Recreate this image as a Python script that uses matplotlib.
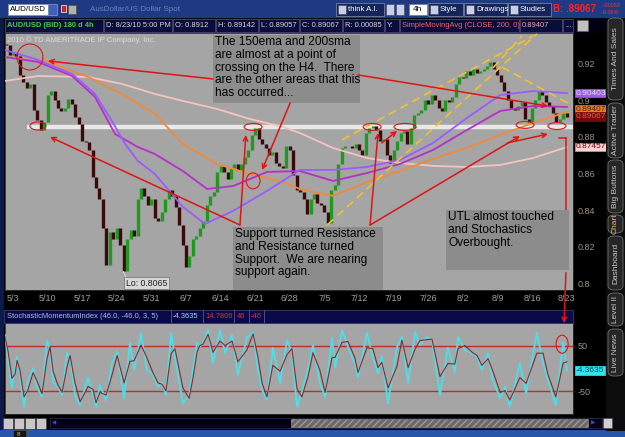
import numpy as np
import matplotlib.pyplot as plt
from matplotlib.patches import Rectangle, Ellipse, FancyBboxPatch, FancyArrowPatch

plt.rcParams['font.family'] = ['Liberation Sans', 'DejaVu Sans']

# x axis: weeks since Mon 5/3/2010
week_labels = ['5/3', '5/10', '5/17', '5/24', '5/31', '6/7', '6/14', '6/21', '6/28',
               '7/5', '7/12', '7/19', '7/26', '8/2', '8/9', '8/16', '8/23']

# AUD/USD closes, two bars per trading day, first bar at week -0.2
first_open = 0.931
closes = [0.930, 0.925, 0.926, 0.924, 0.914, 0.910, 0.907, 0.909, 0.895, 0.889,
          0.884, 0.888, 0.903, 0.905, 0.900, 0.896, 0.894, 0.896, 0.901, 0.898,
          0.891, 0.887, 0.878, 0.877, 0.873, 0.858, 0.852, 0.846, 0.830, 0.810,
          0.828, 0.824, 0.830, 0.821, 0.807, 0.824, 0.829, 0.826, 0.846, 0.852,
          0.848, 0.843, 0.846, 0.836, 0.834, 0.839, 0.846, 0.851, 0.848, 0.842,
          0.832, 0.821, 0.809, 0.815, 0.824, 0.826, 0.830, 0.834, 0.843, 0.848,
          0.850, 0.861, 0.864, 0.861, 0.857, 0.863, 0.865, 0.862, 0.865, 0.869,
          0.873, 0.881, 0.885, 0.879, 0.876, 0.874, 0.870, 0.872, 0.866, 0.864,
          0.863, 0.875, 0.873, 0.859, 0.851, 0.850, 0.846, 0.838, 0.846, 0.849,
          0.844, 0.843, 0.839, 0.833, 0.851, 0.854, 0.865, 0.874, 0.875, 0.875,
          0.874, 0.876, 0.873, 0.870, 0.882, 0.885, 0.886, 0.884, 0.878, 0.879,
          0.870, 0.866, 0.873, 0.878, 0.882, 0.883, 0.876, 0.885, 0.892, 0.893,
          0.895, 0.900, 0.898, 0.903, 0.900, 0.896, 0.894, 0.900, 0.899, 0.902,
          0.909, 0.913, 0.912, 0.916, 0.914, 0.917, 0.915, 0.916, 0.917, 0.919,
          0.921, 0.917, 0.914, 0.910, 0.905, 0.900, 0.896, 0.895, 0.897, 0.899,
          0.890, 0.888, 0.896, 0.900, 0.905, 0.903, 0.899, 0.897, 0.893, 0.888,
          0.890, 0.893, 0.8907]

# moving averages (week, price)
violet_w = [-0.23, 0.64, 1.71, 2.37, 2.86, 3.24, 3.61, 4.10, 4.91, 5.55, 6.36, 7.34,
            8.29, 9.25, 10.23, 11.18, 12.14, 13.12, 14.08, 15.03, 16.01]
violet = [0.9275, 0.9226, 0.9144, 0.9035, 0.8887, 0.8762, 0.8669, 0.8598, 0.8418, 0.8325,
          0.8396, 0.8505, 0.8620, 0.8620, 0.8636, 0.8674, 0.8767, 0.8904, 0.9029, 0.9051, 0.9040]
magenta_w = [-0.23, 0.72, 1.71, 2.37, 2.95, 3.61, 4.10, 4.91, 5.61, 6.36, 7.34, 8.29,
             9.25, 10.23, 11.18, 12.14, 13.12, 14.08, 15.03, 16.01]
magenta = [0.9237, 0.9210, 0.9133, 0.9019, 0.8816, 0.8745, 0.8707, 0.8614, 0.8516, 0.8532,
           0.8609, 0.8614, 0.8560, 0.8603, 0.8652, 0.8729, 0.8838, 0.8942, 0.8969, 0.8964]
orange_w = [-0.23, 1.01, 2.17, 3.15, 4.10, 4.91, 5.90, 6.85, 7.80, 8.29, 9.25, 10.23,
            11.18, 12.14, 13.12, 14.08, 15.03, 16.01]
orange = [0.9237, 0.9210, 0.9128, 0.9035, 0.8926, 0.8762, 0.8652, 0.8598, 0.8554, 0.8516,
          0.8478, 0.8554, 0.8614, 0.8680, 0.8740, 0.8811, 0.8876, 0.8937]
pink_w = [-0.23, 0.72, 2.17, 3.15, 4.10, 4.91, 5.90, 6.85, 7.80, 8.29, 9.25, 10.23,
          11.18, 12.14, 13.12, 14.08, 15.03, 16.01]
pink = [0.9106, 0.9133, 0.9128, 0.9090, 0.9035, 0.8997, 0.8953, 0.8898, 0.8855, 0.8822,
        0.8740, 0.8685, 0.8658, 0.8642, 0.8636, 0.8647, 0.8685, 0.8745]

# stochastic momentum index
smi_w = [-0.23, -0.14, -0.03, 0.06, 0.12, 0.20, 0.32, 0.43, 0.58, 0.69, 0.84, 0.98, 1.07, 1.16,
         1.30, 1.42, 1.56, 1.65, 1.79, 1.94, 2.17, 2.31, 2.40, 2.51, 2.69, 2.86, 3.01, 3.21,
         3.38, 3.50, 3.70, 3.87, 4.05, 4.19, 4.31, 4.42, 4.57, 4.68, 4.91, 5.09, 5.20, 5.32,
         5.40, 5.49, 5.64, 5.78, 5.98, 6.13, 6.33, 6.50, 6.76, 6.94, 7.08, 7.20, 7.34, 7.51,
         7.72, 7.92, 8.06, 8.21, 8.35, 8.53, 8.67, 8.87, 9.02, 9.22, 9.31, 9.51, 9.68, 9.88,
         9.97, 10.23, 10.40, 10.55, 10.66, 10.84, 11.10, 11.24, 11.42, 11.62, 11.76, 11.97,
         12.11, 12.34, 12.57, 12.77, 12.86, 13.06, 13.27, 13.41, 13.55, 13.73, 13.87, 14.08,
         14.22, 14.36, 14.65, 14.83, 15.14, 15.32, 15.46, 15.69, 15.90, 16.01]
smi = [74, 19, -43, 3, 26, -19, -85, -30, 1, -41, -63, 63, 41, -30, -41, -59, 34, 26, -59, -81,
       -19, -59, -85, -37, -70, 12, 37, -66, 57, -3, 79, -3, -14, -41, -32, -59, 79, 26, -77, -60,
       -3, 57, 48, 57, 85, 12, 85, 34, 74, -14, 68, 81, -3, -48, -70, 46, -32, 63, 34, -85,
       -52, 0, 52, -32, -63, 68, 3, 85, 48, 12, -19, 79, 26, -10, 26, -77, 48, 70, -32, 81,
       52, 70, 63, -59, 46, -8, 70, 41, 34, 26, -3, 34, -26, -66, -41, -85, 12, -55, 79, 12,
       -26, -81, 59, -4]
smi_sig = [70, 37, -22, -12, 18, -4, -63, -48, -9, -27, -56, 21, 48, -6, -37, -53, 3, 29, -31, -74,
           -40, -46, -76, -53, -59, -15, 29, -32, 16, 17, 52, 24, -10, -32, -35, -50, 33, 44, -43, -66,
           -22, 37, 51, 54, 76, 36, 61, 51, 61, 15, 41, 77, 25, -33, -63, 7, -6, 31, 44, -45,
           -63, -17, 35, -4, -53, 24, 25, 58, 60, 24, -9, 46, 44, 2, 14, -43, 6, 63, 2, 43,
           62, 64, 65, -18, 11, 10, 44, 51, 36, 29, 7, 22, -6, -53, -49, -70, -20, -33, 34, 34,
           -13, -63, 12, 15]

price_ticks = [0.8, 0.82, 0.84, 0.86, 0.88, 0.9, 0.92]
price_tick_labels = ['0.8', '0.82', '0.84', '0.86', '0.88', '0.9', '0.92']

W, H = 625, 437
RED = '#e01414'
fig = plt.figure(figsize=(W / 100, H / 100), dpi=100, facecolor='black')


def fx(x):
    return x / W


def fy(y):
    return 1 - y / H


def box(x0, y0, x1, y1, **kw):
    r = Rectangle((fx(x0), fy(y1)), (x1 - x0) / W, (y1 - y0) / H,
                  transform=fig.transFigure, **kw)
    fig.add_artist(r)
    return r


def label(x, y, s, **kw):
    kw.setdefault('va', 'center')
    return fig.text(fx(x), fy(y), s, **kw)


# ---------- window chrome ----------
box(0, 0, 625, 18, fc='#1d3a82', ec='none')
box(0, 18, 4, 431, fc='#0b1a4a', ec='none')
box(0, 430, 625, 437, fc='#2656aa', ec='none')

# top toolbar
box(8, 4, 48, 15, fc='white', ec='#8090c0', lw=0.6)
label(10, 9.5, 'AUD/USD', fontsize=5.8, color='black')
box(48, 4, 57, 15, fc='#4060b8', ec='#8090c0', lw=0.6)
box(61, 5, 66, 12, fc='#d02020', ec='white', lw=0.5)
box(68, 5, 76, 14, fc='#b0b0b0', ec='#505050', lw=0.5)
label(90, 9.5, 'AusDollar/US Dollar Spot', fontsize=5.8, color='#6a84c0')
for x0, x1, s in [(336, 384, 'think A.I.'), (428, 463, 'Style'), (464, 507, 'Drawings'),
                  (508, 551, 'Studies')]:
    box(x0, 3, x1, 16, fc='#15255a', ec='#7080a8', lw=0.6)
    box(x0 + 2, 5, x0 + 10, 14, fc='#c8d0e8', ec='#404060', lw=0.4)
    label(x0 + 12, 9.5, s, fontsize=5.6, color='white')
box(386, 4, 394, 15, fc='#c8d0e8', ec='#404060', lw=0.4)
box(396, 4, 404, 15, fc='#c8d0e8', ec='#404060', lw=0.4)
box(409, 4, 427, 15, fc='white', ec='#7080a8', lw=0.6)
label(413, 9.5, '4h', fontsize=6, color='black')
label(553, 9.5, 'B: .89067', fontsize=7, color='#ff2222', fontweight='bold')
label(602, 5.5, '-.00053', fontsize=4, color='#ff3030')
label(602, 13, '-0.06%', fontsize=4, color='#ff3030')

# info row
box(4, 18, 606, 33, fc='#000010', ec='none')
info = [(5, 103, 'AUD/USD (BID) 180 d 4h', '#48cc48'),
        (104, 172, 'D: 8/23/10 5:00 PM', '#d8d8d8'),
        (173, 215, 'O: 0.8912', '#d8d8d8'),
        (216, 258, 'H: 0.89142', '#d8d8d8'),
        (259, 299, 'L: 0.89057', '#d8d8d8'),
        (300, 342, 'C: 0.89067', '#d8d8d8'),
        (343, 384, 'R: 0.00085', '#d8d8d8'),
        (385, 399, 'Y:', '#d8d8d8'),
        (400, 519, 'SimpleMovingAvg (CLOSE, 200, 0)', '#f06a6a'),
        (520, 562, '0.89407', '#e8b0b0'),
        (563, 573, '...', '#d8d8d8')]
for x0, x1, s, c in info:
    box(x0, 19, x1, 32, fc='#0a0c3c', ec='#4a4a78', lw=0.6)
    label(x0 + 2, 25.5, s, fontsize=5.4, color=c,
          fontweight='bold' if x0 == 5 else 'normal')
box(577, 20, 588, 31, fc='#c0c0c0', ec='#606060', lw=0.5)

# right-hand tabs
box(606, 18, 625, 431, fc='#0c0c0c', ec='none')
tabs = [(18, 100, 'Times And Sales'), (103, 158, 'Active Trader'), (160, 213, 'Big Buttons'),
        (215, 233, 'Chart'), (236, 290, 'Dashboard'), (293, 326, 'Level II'),
        (329, 376, 'Live News')]
for y0, y1, s in tabs:
    fig.add_artist(FancyBboxPatch((fx(608), fy(y1)), 15 / W, (y1 - y0) / H,
                                  boxstyle='round,pad=0,rounding_size=0.01',
                                  transform=fig.transFigure, fc='#262626', ec='#707070', lw=0.6))
    label(615.5, (y0 + y1) / 2, s, fontsize=6, rotation=90, ha='center',
          color='#e8c050' if s == 'Chart' else '#c8c8c8')

# bottom scroll row
for x0 in [3, 14, 25, 36]:
    box(x0, 418, x0 + 10, 429, fc='#c8c8c8', ec='#404040', lw=0.5)
box(50, 418, 602, 428, fc='#000018', ec='#303050', lw=0.5)
box(291, 419, 588, 427, fc='#6a6a6a', ec='#9a9a9a', lw=0.4, hatch='/////')
box(603, 418, 612, 428, fc='#d0d0d0', ec='#505050', lw=0.5)
label(52, 423, '\u25c0', fontsize=4, color='#3050d0')
label(591, 423, '\u25b6', fontsize=4, color='#3050d0')
box(13, 430, 26, 437, fc='#141414', ec='#505050', lw=0.5)
label(17, 434, '8', fontsize=4.5, color='#e8c050')

# stochastic header
box(4, 310, 573, 323, fc='#0a0a48', ec='#3a3a70', lw=0.6)
for xs in [171, 203, 234, 249, 264]:
    box(xs, 310, xs + 0.6, 323, fc='#4a4a80', ec='none')
label(7, 316.5, 'StochasticMomentumIndex (46.0, -46.0, 3, 5)', fontsize=5.4, color='#a8c0e0')
label(173, 316.5, '-4.3635', fontsize=5.4, color='#a0d8f0')
label(205, 316.5, '14.7806', fontsize=5.4, color='#e03030')
label(237, 316.5, '46', fontsize=5.4, color='#e03030')
label(251, 316.5, '-46', fontsize=5.4, color='#e03030')

# ---------- price panel ----------
ax = fig.add_axes([fx(5), fy(290), 568 / W, 257 / H])
ax.set_facecolor('#a5a5a5')
ax.set_xlim(-0.231, 16.185)
ax.set_ylim(0.7964, 0.9368)
for s in ax.spines.values():
    s.set_color('#303030')
    s.set_linewidth(0.6)
ax.set_xticks(range(len(week_labels)))
ax.set_xticklabels(week_labels)
ax.yaxis.tick_right()
ax.set_yticks(price_ticks)
ax.set_yticklabels(price_tick_labels)
ax.tick_params(axis='x', length=0, pad=3, labelsize=6.5, labelcolor='#a0a0a0')
ax.tick_params(axis='y', length=0, pad=3, labelsize=6.5, labelcolor='#a09484')

ax.plot([0.40, 16.185], [0.8855, 0.8855], color='#e8e8e8', lw=3.2,
        solid_capstyle='butt', zorder=2)

bar_w = -0.2 + 0.1 * np.arange(len(closes))
cl = np.array(closes)
op = np.array([first_open] + closes[:-1])
cols = np.where(cl >= op, '#1f9a1f', '#3a0a0a')
ax.vlines(bar_w, np.minimum(op, cl), np.maximum(op, cl), colors=cols, lw=2.4, zorder=3)

ax.plot(pink_w, pink, color='#f6c4c0', lw=1.3, zorder=4)
ax.plot(orange_w, orange, color='#f08a38', lw=1.3, zorder=4)
ax.plot(magenta_w, magenta, color='#b530c8', lw=1.3, zorder=4)
ax.plot(violet_w, violet, color='#9a5cff', lw=1.3, zorder=4)

# yellow channel lines
for (w0, p0), (w1, p1) in [((9.51, 0.8784), (15.03, 0.9352)),
                           ((9.08, 0.8319), (15.14, 0.9363)),
                           ((13.87, 0.9177), (14.71, 0.9352)),
                           ((14.13, 0.9182), (16.18, 0.8970))]:
    ax.plot([w0, w1], [p0, p1], color='#f2c22a', lw=1.2, dashes=(5, 3), zorder=5)

# comment boxes
notes = [(5.78, 10.03, 0.8986, 0.9357,
          'The 150ema and 200sma\nare almost at a point of\ncrossing on the H4.  There\n'
          'are the other areas that this\nhas occurred...'),
         (6.36, 10.69, 0.7964, 0.8308,
          'Support turned Resistance\nand Resistance turned\nSupport.  We are nearing\nsupport again.'),
         (12.51, 16.07, 0.8073, 0.8401,
          'UTL almost touched\nand Stochastics\nOverbought.')]
for w0, w1, p0, p1, s in notes:
    ax.add_patch(Rectangle((w0, p0), w1 - w0, p1 - p0, fc='#8c8c8c', ec='none', zorder=6))
    ax.text(w0 + 0.07, p1 - 0.0007, s, fontsize=8.6, color='black', va='top', ha='left',
            linespacing=1.08, zorder=7)

# red arrows
arrows = [((5.78, 0.9117), (1.01, 0.9215)),
          ((9.97, 0.9139), (15.46, 0.8969)),
          ((6.56, 0.8319), (1.07, 0.8800)),
          ((6.56, 0.8319), (6.73, 0.8811)),
          ((8.01, 0.8986), (7.20, 0.8620)),
          ((10.32, 0.8319), (10.55, 0.8822)),
          ((10.66, 0.8767), (11.10, 0.8833)),
          ((10.32, 0.8319), (14.65, 0.8805)),
          ((14.28, 0.8767), (15.46, 0.8816))]
for tail, head in arrows:
    ax.annotate('', xy=head, xytext=tail, zorder=8,
                arrowprops=dict(arrowstyle='->', color=RED, lw=1.1, shrinkA=0, shrinkB=0,
                                mutation_scale=8))
ax.plot([15.78, 15.98], [0.8795, 0.8795], color=RED, lw=1.1, zorder=8)
ax.plot([15.98, 15.98], [0.8795, 0.8401], color=RED, lw=1.1, zorder=5)

# red ellipses
for w, p, ew, eh in [(0.49, 0.9237, 0.75, 0.0142), (0.72, 0.8860, 0.46, 0.0044),
                     (6.94, 0.8855, 0.52, 0.0038), (6.94, 0.8560, 0.40, 0.0087),
                     (10.38, 0.8855, 0.52, 0.0038), (11.33, 0.8855, 0.64, 0.0038),
                     (14.80, 0.8866, 0.52, 0.0038), (15.72, 0.8860, 0.52, 0.0038)]:
    ax.add_patch(Ellipse((w, p), ew, eh, fill=False, ec='#d81818', lw=0.8, zorder=8))

ax.text(-0.17, 0.9349, '2010 \u00a9 TD AMERITRADE IP Company, Inc.', fontsize=5.5,
        color='#dcdcdc', va='top', zorder=7)
ax.plot([3.19, 3.26], [0.8065, 0.8035], color='#e0e0e0', lw=0.6, zorder=7)
ax.text(3.26, 0.8002, 'Lo: 0.8065', fontsize=6.3, color='#202020', va='center', zorder=7,
        bbox=dict(boxstyle='square,pad=0.2', fc='#d8d8d8', ec='#707070', lw=0.5))

# last-value flags on the price scale
ytr = ax.get_yaxis_transform()
for p, s, bg, fg in [(0.9040, '0.90403', '#9a5cf0', '#ece4ff'),
                     (0.8951, '0.89407', '#f07a22', '#4a1800'),
                     (0.8912, '0.89067', '#7a0808', '#d86060'),
                     (0.8746, '0.87457', '#ffd2d2', '#600000')]:
    ax.text(1.005, p, s, transform=ytr, fontsize=6, color=fg, va='center', ha='left',
            clip_on=False, zorder=9,
            bbox=dict(boxstyle='square,pad=0.1', fc=bg,
                      ec='#c0a0a0' if bg == '#ffd2d2' else bg, lw=0.5))

# ---------- stochastic panel ----------
ax2 = fig.add_axes([fx(5), fy(414), 568 / W, 91 / H])
ax2.set_facecolor('#a5a5a5')
ax2.set_xlim(-0.231, 16.185)
ax2.set_ylim(-101, 101)
for s in ax2.spines.values():
    s.set_color('#303030')
    s.set_linewidth(0.6)
ax2.axhline(50, color='#c42a2a', lw=1.0)
ax2.axhline(-50, color='#c42a2a', lw=1.0)
ax2.plot(smi_w, smi, color='#4fdde8', lw=1.3, zorder=3)
ax2.plot(smi_w, smi_sig, color='#8a2a2a', lw=0.8, zorder=4)
ax2.set_xticks([])
ax2.yaxis.tick_right()
ax2.set_yticks([50, -50])
ax2.set_yticklabels(['50', '-50'])
ax2.tick_params(axis='y', length=0, pad=3, labelsize=6.5, labelcolor='#a09484')
ax2.add_patch(Ellipse((15.87, 54), 0.35, 40, fill=False, ec='#d81818', lw=0.8, zorder=5))
ax2.text(1.005, -4.36, '-4.3635', transform=ax2.get_yaxis_transform(), fontsize=6,
         color='#004a60', va='center', clip_on=False,
         bbox=dict(boxstyle='square,pad=0.15', fc='#30e4f2', ec='#30e4f2', lw=0.5))

# arrow running from the price panel down to the stochastic circle
fig.add_artist(FancyArrowPatch((fx(566), fy(270)), (fx(564), fy(326)), transform=fig.transFigure,
                               arrowstyle='->', color=RED, lw=1.1, mutation_scale=8))

fig.savefig('out.png', dpi=100, facecolor=fig.get_facecolor())
